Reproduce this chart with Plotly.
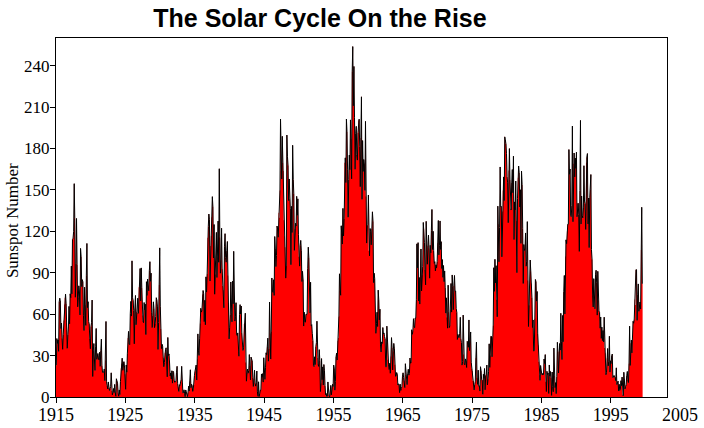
import plotly.graph_objects as go

# Monthly mean sunspot numbers (Jan..Dec)
start_year = 1915
ssn_1915_1919 = [
    23.0, 42.3, 38.8, 41.3, 33.0, 68.8, 71.6, 69.6, 49.5, 53.5, 42.5, 34.5,
    45.3, 55.4, 67.0, 71.8, 74.5, 67.7, 53.5, 35.2, 45.1, 50.7, 65.6, 53.0,
    74.7, 71.9, 94.8, 74.7, 114.1, 114.9, 119.8, 154.5, 129.4, 72.2, 96.4, 129.3,
    96.0, 65.3, 72.2, 80.5, 76.7, 59.4, 107.6, 101.7, 79.9, 85.0, 83.4, 59.2,
    48.1, 79.5, 66.5, 51.8, 88.1, 111.2, 64.7, 69.0, 54.7, 52.8, 42.0, 34.9,
]
ssn_1920s = [
    51.1, 53.9, 70.2, 14.8, 33.3, 38.7, 27.5, 19.2, 36.3, 49.6, 27.2, 29.9,
    31.5, 28.3, 26.7, 32.4, 22.2, 33.7, 41.9, 22.8, 17.8, 18.2, 17.8, 20.3,
    11.8, 26.4, 54.7, 11.0, 8.0, 5.8, 10.9, 6.5, 4.7, 6.2, 7.4, 17.5,
    4.5, 1.5, 3.3, 6.1, 3.2, 9.1, 3.5, 0.5, 13.2, 11.6, 10.0, 2.8,
    0.5, 5.1, 1.8, 11.3, 20.8, 24.0, 28.1, 19.3, 25.1, 25.6, 22.5, 16.5,
    5.5, 23.2, 18.0, 31.7, 42.8, 47.5, 38.5, 37.9, 60.2, 69.2, 58.6, 98.6,
    71.8, 70.0, 62.5, 38.5, 64.3, 73.5, 52.3, 61.6, 60.8, 71.5, 60.5, 79.4,
    81.6, 93.0, 69.6, 93.5, 79.1, 59.1, 54.9, 53.8, 68.4, 63.1, 67.2, 45.2,
    83.5, 73.5, 85.4, 80.6, 76.9, 91.4, 98.0, 83.8, 89.7, 61.4, 50.3, 59.0,
    68.9, 64.1, 50.2, 52.8, 58.2, 71.9, 70.2, 65.8, 34.4, 54.0, 81.1, 108.0,
]
ssn_1930s = [
    65.3, 49.2, 35.0, 38.2, 36.8, 28.8, 21.9, 24.9, 32.1, 34.4, 35.6, 25.8,
    14.6, 43.1, 30.0, 31.2, 24.6, 15.3, 17.4, 13.0, 19.0, 10.0, 18.7, 17.8,
    12.1, 10.6, 11.2, 11.2, 17.9, 22.2, 9.6, 6.8, 4.0, 8.9, 8.2, 11.0,
    12.3, 22.2, 10.1, 2.9, 3.2, 5.2, 2.8, 0.2, 5.1, 3.0, 0.6, 0.3,
    3.4, 7.8, 4.3, 11.3, 19.7, 6.7, 9.3, 8.3, 4.0, 5.7, 8.7, 15.4,
    18.6, 20.5, 23.1, 12.2, 27.3, 45.7, 33.9, 30.1, 42.1, 53.2, 64.2, 61.5,
    62.8, 74.3, 77.1, 74.9, 54.6, 70.0, 52.3, 87.0, 76.0, 89.0, 115.4, 123.4,
    132.5, 128.5, 83.9, 109.3, 116.7, 130.3, 145.1, 137.7, 100.7, 124.9, 74.4, 88.8,
    98.4, 119.2, 86.5, 101.0, 127.4, 97.5, 165.3, 115.7, 89.6, 99.1, 122.2, 92.7,
    80.3, 77.4, 64.6, 109.1, 118.3, 101.0, 97.6, 105.8, 112.6, 88.1, 68.1, 42.1,
]
ssn_1940s = [
    50.5, 59.4, 83.3, 60.7, 54.4, 83.9, 67.5, 105.5, 66.5, 55.0, 58.4, 68.3,
    45.6, 44.5, 46.4, 32.8, 29.5, 59.8, 66.9, 60.0, 65.9, 46.3, 38.4, 33.7,
    35.6, 52.8, 54.2, 60.7, 25.0, 11.4, 17.7, 20.2, 17.2, 19.2, 30.7, 22.5,
    12.4, 28.9, 27.4, 26.1, 14.1, 7.6, 13.2, 19.4, 10.0, 7.8, 10.2, 18.8,
    3.7, 0.5, 11.0, 0.3, 2.5, 5.0, 5.0, 16.7, 14.3, 16.9, 10.8, 28.4,
    18.5, 12.7, 21.5, 32.0, 30.6, 36.2, 42.6, 25.9, 34.9, 68.8, 46.0, 27.4,
    47.6, 86.2, 76.6, 75.7, 84.9, 73.5, 116.2, 107.2, 94.4, 102.3, 123.8, 121.7,
    115.7, 133.4, 129.8, 149.8, 201.3, 163.9, 157.9, 188.8, 169.4, 163.6, 128.0, 116.5,
    108.5, 86.1, 94.8, 189.7, 174.0, 167.8, 142.2, 157.9, 143.3, 136.3, 95.8, 138.0,
    119.1, 182.3, 157.5, 147.0, 106.2, 121.7, 125.8, 123.8, 145.3, 131.6, 143.5, 117.6,
]
ssn_1950s = [
    101.6, 94.8, 109.7, 113.4, 106.2, 83.6, 91.0, 85.2, 51.3, 61.4, 54.8, 54.1,
    59.9, 59.9, 59.9, 92.9, 108.5, 100.6, 61.5, 61.0, 83.1, 51.6, 52.4, 45.8,
    40.7, 22.7, 22.0, 29.1, 23.4, 36.4, 39.3, 54.9, 28.2, 23.8, 22.1, 34.3,
    26.5, 3.9, 10.0, 27.8, 12.5, 21.8, 8.6, 23.5, 19.3, 8.2, 1.6, 2.5,
    0.2, 0.5, 10.9, 1.8, 0.8, 0.2, 4.8, 8.4, 1.5, 7.0, 9.2, 7.6,
    23.1, 20.8, 4.9, 11.3, 28.9, 31.7, 26.7, 40.7, 42.7, 58.5, 89.2, 76.9,
    73.6, 124.0, 118.4, 110.7, 136.6, 116.6, 129.1, 169.6, 173.2, 155.3, 201.3, 192.1,
    165.0, 130.2, 157.4, 175.2, 164.6, 200.7, 187.2, 158.0, 235.8, 253.8, 210.9, 239.4,
    202.5, 164.9, 190.7, 196.0, 175.3, 171.5, 191.4, 200.2, 201.2, 181.5, 152.3, 187.6,
    217.4, 143.1, 185.7, 163.3, 172.0, 168.7, 149.6, 199.6, 145.2, 111.4, 124.0, 125.0,
]
ssn_1960s = [
    146.3, 106.0, 102.2, 122.0, 119.6, 110.2, 121.7, 134.1, 127.2, 82.8, 89.6, 85.6,
    57.9, 46.1, 53.0, 61.4, 51.0, 77.4, 70.2, 55.8, 63.6, 37.7, 32.6, 39.9,
    38.7, 50.3, 45.6, 46.4, 43.7, 42.0, 21.8, 21.8, 51.3, 39.5, 26.9, 23.2,
    19.8, 24.4, 17.1, 29.3, 43.0, 35.9, 19.6, 33.2, 38.8, 35.3, 23.4, 14.9,
    15.3, 17.7, 16.5, 8.6, 9.5, 9.1, 3.1, 9.3, 4.7, 6.1, 7.4, 15.1,
    17.5, 14.2, 11.7, 6.8, 24.1, 15.9, 11.9, 8.9, 16.8, 20.1, 15.8, 17.0,
    28.2, 24.4, 25.3, 48.7, 45.3, 47.7, 56.7, 51.2, 50.2, 57.2, 57.2, 70.4,
    110.9, 93.6, 111.8, 69.5, 86.5, 67.3, 91.5, 107.2, 76.8, 88.2, 94.3, 126.4,
    121.8, 111.9, 92.2, 81.2, 127.2, 110.3, 96.1, 109.3, 117.2, 107.7, 86.0, 109.8,
    104.4, 120.5, 135.8, 106.8, 120.0, 106.0, 96.8, 98.0, 91.3, 95.7, 93.5, 97.9,
]
ssn_1970s = [
    111.5, 127.8, 102.9, 109.5, 127.5, 106.8, 112.5, 93.0, 99.5, 86.6, 95.2, 83.5,
    91.3, 79.0, 60.7, 71.8, 57.5, 49.8, 81.0, 61.4, 50.2, 51.7, 63.2, 82.2,
    61.5, 88.4, 80.1, 63.2, 80.5, 88.0, 76.5, 76.8, 64.0, 61.3, 41.6, 45.3,
    43.4, 42.9, 46.0, 57.7, 42.4, 39.5, 23.1, 25.6, 59.3, 30.7, 23.9, 23.3,
    27.6, 26.0, 21.3, 40.3, 39.5, 36.0, 55.8, 33.6, 40.2, 47.1, 25.0, 20.5,
    18.9, 11.5, 11.5, 5.1, 9.0, 11.4, 28.2, 39.7, 13.9, 9.1, 19.4, 7.8,
    8.1, 4.3, 21.9, 18.8, 12.4, 12.2, 1.9, 16.4, 13.5, 20.6, 5.2, 15.3,
    16.4, 23.1, 8.7, 12.9, 18.6, 38.5, 21.4, 30.1, 44.0, 43.8, 29.1, 43.2,
    51.9, 93.6, 76.5, 99.7, 82.7, 95.1, 70.4, 58.1, 138.2, 125.1, 97.9, 122.7,
    166.6, 137.5, 138.0, 101.5, 134.4, 149.5, 159.4, 142.2, 188.4, 186.2, 183.3, 176.3,
]
ssn_1980s = [
    159.6, 155.0, 126.2, 164.1, 179.9, 157.3, 136.3, 135.4, 155.0, 164.7, 147.9, 174.4,
    114.0, 141.3, 135.5, 156.4, 127.5, 90.0, 143.8, 158.7, 167.3, 162.4, 137.5, 150.1,
    111.2, 163.6, 153.8, 122.0, 82.2, 110.4, 106.1, 107.6, 118.8, 94.7, 98.1, 127.0,
    84.3, 51.0, 66.5, 80.7, 99.2, 91.1, 82.2, 71.8, 50.3, 55.8, 33.3, 33.4,
    57.0, 85.1, 83.5, 69.4, 76.4, 46.1, 37.4, 25.5, 15.7, 12.0, 22.8, 18.7,
    16.5, 15.9, 17.2, 16.2, 27.5, 24.2, 30.7, 11.1, 3.9, 18.6, 16.2, 17.3,
    2.5, 23.2, 15.1, 18.5, 13.7, 1.1, 18.1, 7.4, 3.8, 35.4, 15.2, 6.8,
    10.4, 2.4, 14.7, 39.6, 33.0, 17.4, 33.0, 38.7, 33.9, 60.6, 39.9, 27.1,
    59.0, 40.0, 76.2, 88.0, 60.1, 101.8, 113.8, 111.0, 120.1, 125.1, 125.1, 179.2,
    161.3, 165.1, 131.4, 130.6, 138.5, 196.2, 126.9, 168.9, 176.7, 159.4, 173.0, 165.5,
]
ssn_1990s = [
    177.3, 130.5, 140.3, 140.3, 132.2, 105.4, 149.4, 200.3, 125.2, 145.5, 131.4, 129.7,
    136.9, 167.5, 141.9, 140.0, 121.3, 169.7, 173.7, 176.3, 125.3, 144.1, 108.2, 144.4,
    150.0, 161.1, 106.7, 99.8, 73.8, 65.2, 85.7, 64.5, 63.9, 88.7, 91.8, 82.6,
    59.3, 91.0, 69.8, 62.2, 61.3, 49.8, 57.9, 42.4, 50.6, 40.8, 48.1, 39.9,
    57.8, 35.5, 31.7, 16.1, 17.8, 28.0, 35.1, 22.5, 25.7, 44.0, 18.0, 26.2,
    24.2, 29.9, 31.1, 14.0, 14.5, 15.6, 14.5, 14.3, 11.8, 21.1, 9.0, 10.0,
    11.5, 4.4, 9.2, 4.8, 5.5, 11.8, 8.2, 14.4, 1.6, 0.9, 17.9, 13.3,
    5.7, 7.6, 8.7, 15.5, 18.5, 12.7, 10.4, 24.4, 51.3, 22.8, 39.0, 41.2,
    31.9, 40.3, 54.8, 53.4, 56.3, 70.7, 66.6, 92.2, 92.2, 55.5, 74.0, 81.9,
    62.0, 66.3, 68.8, 63.7, 106.4, 137.4, 82.0,
]

x_tick_years = [1915, 1925, 1935, 1945, 1955, 1965, 1975, 1985, 1995]
extra_tick_year = 2005
y_ticks = [0, 30, 60, 90, 120, 150, 180, 210, 240]
x_range = [1915, 2003.1]
y_range = [0, 260]

values = (ssn_1915_1919 + ssn_1920s + ssn_1930s + ssn_1940s + ssn_1950s
          + ssn_1960s + ssn_1970s + ssn_1980s + ssn_1990s)
n = len(values)
x_start = [start_year + i / 12 for i in range(n)]
x_mid = [start_year + (i + 0.5) / 12 for i in range(n)]

fig = go.Figure()
fig.add_trace(go.Scatter(
    x=x_start + [start_year + n / 12], y=values + [values[-1]],
    mode="lines", line=dict(color="#ff0000", width=0, shape="hv"),
    fill="tozeroy", fillcolor="#ff0000", hoverinfo="skip", showlegend=False))
fig.add_trace(go.Scatter(
    x=x_mid, y=values, mode="lines",
    line=dict(color="black", width=1), showlegend=False))

serif = "Liberation Serif, Times New Roman, serif"
tick_font = dict(family=serif, size=18, color="black")
label_font = dict(family=serif, size=17, color="black")

fig.update_layout(
    width=704, height=428,
    margin=dict(l=56, r=37, t=38, b=31, autoexpand=False),
    paper_bgcolor="white", plot_bgcolor="white",
    title=dict(text="<b>The Solar Cycle On the Rise</b>",
               font=dict(family="Liberation Sans, Arial, sans-serif", size=25, color="black"),
               x=0.4545, xanchor="center", xref="container",
               y=0.958, yanchor="middle", yref="container"),
    xaxis=dict(range=x_range, tickvals=x_tick_years, ticktext=[str(v) for v in x_tick_years],
               ticks="outside", ticklen=5, tickcolor="black", showgrid=False, zeroline=False,
               showline=True, linecolor="black", linewidth=1, mirror=True, tickfont=tick_font,
               ticklabelstandoff=-4, automargin=False),
    yaxis=dict(range=y_range, tickvals=y_ticks, ticks="outside", ticklen=5, tickcolor="black",
               showgrid=False, zeroline=False, showline=True, linecolor="black", linewidth=1,
               mirror=True, tickfont=label_font, ticklabelstandoff=-3, automargin=False),
    annotations=[
        dict(text=str(extra_tick_year),
             x=(extra_tick_year - x_range[0]) / (x_range[1] - x_range[0]),
             xref="paper", y=0, yref="paper", yshift=-6, showarrow=False,
             xanchor="center", yanchor="top", font=tick_font),
        dict(text="Sunspot Number", textangle=-90, x=0, xref="paper", xshift=-44,
             y=0.49, yref="paper", showarrow=False, xanchor="center", yanchor="middle",
             font=label_font),
    ],
)

# Remove the browser's default 8px page margin so the figure fills the window exactly.
fig.write_html("out.html", config={"displayModeBar": False},
               post_script="document.body.style.margin='0';")
